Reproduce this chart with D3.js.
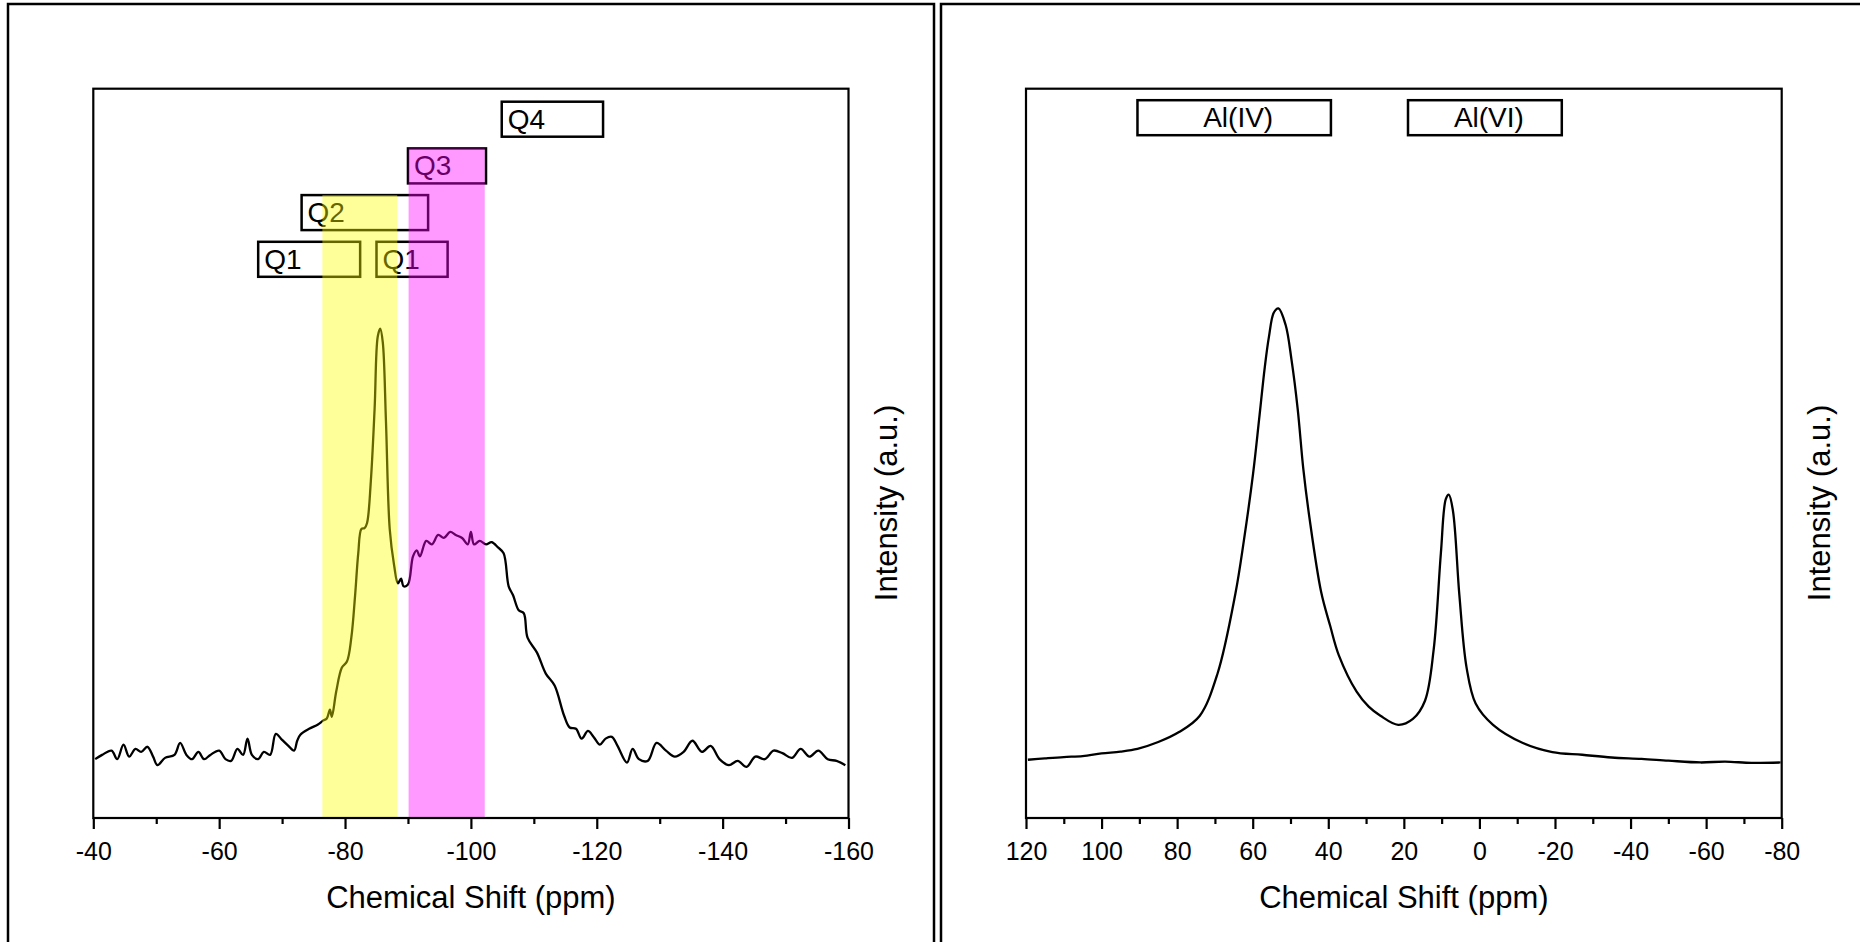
<!DOCTYPE html>
<html>
<head>
<meta charset="utf-8">
<script src="https://cdn.jsdelivr.net/npm/d3@7"></script>
<style>
  html, body { margin: 0; padding: 0; background: #fff; }
  svg { display: block; }
  text { font-family: "Liberation Sans", Arial, Helvetica, sans-serif; fill: #000; }
</style>
</head>
<body>
<svg id="chart" width="1860" height="942"></svg>
<script>
// ---------------- DATA ----------------
// Left panel: 29Si spectrum (ppm, intensity a.u.)
const siShift = [-40.3,-41.4,-42.9,-43.8,-44.8,-45.7,-46.7,-47.6,-48.6,-49.5,-50.2,-51.4,-52.9,-53.8,-54.8,-55.7,-56.7,-57.6,-58.6,-60.0,
  -61.0,-61.9,-62.9,-63.8,-64.5,-65.2,-66.2,-67.1,-68.1,-69.0,-70.0,-71.0,-71.9,-72.4,-72.9,-74.3,-75.7,-76.5,-77.1,-77.6,
  -77.9,-78.6,-79.5,-80.3,-81.0,-81.6,-82.1,-82.6,-83.1,-83.5,-84.1,-84.7,-85.2,-85.6,-86.0,-86.5,-87.1,-87.8,-88.4,-88.9,
  -89.3,-90.0,-90.8,-91.4,-91.9,-92.9,-93.8,-94.8,-95.7,-96.7,-97.6,-98.6,-99.5,-100.0,-100.5,-101.4,-102.4,-103.3,-104.3,-105.2,
  -106.0,-106.7,-107.6,-108.4,-109.0,-110.5,-111.9,-113.3,-114.8,-115.7,-116.7,-117.6,-118.6,-119.5,-120.5,-121.4,-122.4,-123.3,-124.8,-125.7,
  -126.7,-128.1,-129.5,-131.0,-132.4,-133.8,-135.2,-136.7,-138.1,-139.5,-141.0,-142.4,-143.8,-145.2,-146.7,-148.1,-149.5,-151.0,-152.4,-153.8,
  -155.2,-156.7,-158.1,-159.5];
const siIntensity = [-0.6,0.4,1.4,-0.6,2.8,0,1.8,1.1,2.3,0,-2.0,-0.3,0.4,3.2,0.4,-0.6,1.1,-0.6,0.4,1.4,
  -0.6,-1.0,1.8,0.4,4.2,0.4,-0.6,1.1,0.4,5.3,3.9,2.5,1.4,3.7,5.1,6.5,7.5,8.4,8.9,11.0,
  9.3,15.2,20.8,22.2,27.8,37.7,47.5,53.2,53.4,54.6,64.4,81.3,98.2,100,96.8,78.5,53.2,44.7,40.5,41.6,
  39.8,40.2,46.8,48.2,46.8,50.4,49.6,51.8,51.1,52.5,51.8,51.1,49.6,52.5,49.6,50.4,49.6,50.1,48.9,47.5,
  39.8,37.7,34.2,33.5,27.8,24.3,19.4,16.6,9.6,6.8,6.5,4.2,6.0,4.6,2.8,4.2,4.6,2.5,-1.4,1.8,
  -0.6,-1.0,3.2,1.4,0,1.1,3.7,1.1,2.5,-0.6,-2.0,-1.0,-2.4,0,-0.6,1.4,0.8,-0.3,1.8,0,
  1.4,-0.6,-1.0,-2.0];

// Right panel: 27Al spectrum (ppm, intensity a.u.)
const alShift = [119.5,115,110,105,100,95,90.5,85,79.5,74,69.3,64.6,62.3,59.9,58.3,56.8,55.7,54.4,53.2,51.3,
  49.7,48.1,46.6,45,41.9,39.5,37.2,32.5,29.3,26.2,21.5,17.6,14.4,12.1,10.2,8.9,8.1,7.0,5.3,3.4,
  1.0,-3.6,-11.5,-19.3,-27.2,-35,-42.9,-50,-58.5,-65,-72,-79.7];
const alIntensity = [0.5,0.8,1.1,1.3,1.9,2.3,2.9,4.4,6.6,10.2,19.5,37.0,49.0,63.5,75.5,87.0,93.7,99.0,99.9,96.3,
  88.4,77.8,64.5,53.9,37.5,30.0,23.5,15.5,12.2,10.2,8.2,9.5,13.5,24.8,46.0,57.9,58.9,55.3,36.7,20.8,
  12.9,8.2,4.2,2.2,1.6,1.0,0.7,0.3,-0.1,0.1,-0.2,-0.1];

// Axis ticks
const siMajorTicks = [-40,-60,-80,-100,-120,-140,-160];
const siMinorTicks = [-50,-70,-90,-110,-130,-150];
const alMajorTicks = [120,100,80,60,40,20,0,-20,-40,-60,-80];
const alMinorTicks = [110,90,70,50,30,10,-10,-30,-50,-70];

// Highlight bands (ppm ranges) and annotation boxes
const siBandFrom  = [-76.4, -90.1];
const siBandTo    = [-88.3, -102.2];
const siBandColor = ["#ffff00", "#ff00ff"];
const siBandLevel = [1, 2];

const siBoxLabel = ["Q1", "Q1", "Q2", "Q3", "Q4"];
const siBoxFrom  = [-66.2, -85.0, -73.1, -90.0, -104.9];
const siBoxTo    = [-82.4, -96.3, -93.2, -102.4, -121.0];
const siBoxLevel = [0, 0, 1, 2, 3];

const alBoxLabel = ["Al(IV)", "Al(VI)"];
const alBoxFrom  = [90.5, 18.9];
const alBoxTo    = [39.3, -21.8];

const xTitle = "Chemical Shift (ppm)";
const yTitle = "Intensity (a.u.)";

// ---------------- LAYOUT ----------------
const svg = d3.select("#chart");
const FONT = '"Liberation Sans", Arial, Helvetica, sans-serif';

// panel borders
svg.append("rect").attr("x", 8).attr("y", 4).attr("width", 926).attr("height", 980)
  .attr("fill", "none").attr("stroke", "#000").attr("stroke-width", 2.5);
svg.append("rect").attr("x", 941).attr("y", 4).attr("width", 960).attr("height", 980)
  .attr("fill", "none").attr("stroke", "#000").attr("stroke-width", 2.5);

const plotTop = 88.7, plotBottom = 818;
const rowTop = lvl => plotTop + 13 + (3 - lvl) * 46.7;
const boxH = 35;

function drawPanel(opt) {
  const g = svg.append("g");
  const x = d3.scaleLinear().domain(opt.xDomain).range([opt.x0, opt.x1]);
  const y = d3.scaleLinear().domain(opt.yDomain).range([plotBottom, plotTop]);

  // boxes drawn under bands
  const boxes = g.append("g");
  opt.boxes.forEach(b => {
    const bx0 = x(b.from), bx1 = x(b.to);
    const by = b.level !== undefined ? rowTop(b.level) : plotTop + 11.5;
    boxes.append("rect").attr("x", bx0).attr("y", by).attr("width", bx1 - bx0).attr("height", boxH)
      .attr("fill", "#fff").attr("stroke", "#000").attr("stroke-width", 2.5);
    const t = boxes.append("text").text(b.label)
      .attr("y", by + 27).attr("font-size", opt.boxFont);
    if (opt.centerText) t.attr("x", (bx0 + bx1) / 2 + 4).attr("text-anchor", "middle");
    else t.attr("x", bx0 + 6);
  });

  // spectrum line
  const line = d3.line().x(d => x(d[0])).y(d => y(d[1])).curve(d3.curveCatmullRom.alpha(0.5));
  g.append("path").datum(opt.shift.map((s, i) => [s, opt.intensity[i]]))
    .attr("d", line).attr("fill", "none").attr("stroke", "#000")
    .attr("stroke-width", 2.3).attr("stroke-linejoin", "round");

  // translucent bands over everything
  (opt.bands || []).forEach(b => {
    const bx0 = x(b.from), bx1 = x(b.to);
    const by = rowTop(b.level);
    g.append("rect").attr("x", bx0).attr("y", by).attr("width", bx1 - bx0).attr("height", plotBottom - by)
      .attr("fill", b.color).attr("fill-opacity", 0.4);
  });

  // frame
  g.append("rect").attr("x", opt.x0).attr("y", plotTop).attr("width", opt.x1 - opt.x0).attr("height", plotBottom - plotTop)
    .attr("fill", "none").attr("stroke", "#000").attr("stroke-width", 2.2);

  // axes
  const major = g.append("g").attr("transform", `translate(0,${plotBottom})`)
    .call(d3.axisBottom(x).tickValues(opt.major).tickSize(11).tickFormat(d => String(d)));
  major.select(".domain").remove();
  major.selectAll("line").attr("stroke", "#000").attr("stroke-width", 2.2);
  major.selectAll("text").attr("y", 42).attr("dy", 0).attr("font-size", 25)
    .attr("font-family", FONT).attr("fill", "#000");
  const minor = g.append("g").attr("transform", `translate(0,${plotBottom})`)
    .call(d3.axisBottom(x).tickValues(opt.minor).tickSize(6).tickFormat(""));
  minor.select(".domain").remove();
  minor.selectAll("line").attr("stroke", "#000").attr("stroke-width", 2.2);

  // titles
  g.append("text").text(xTitle).attr("x", (opt.x0 + opt.x1) / 2).attr("y", 908)
    .attr("text-anchor", "middle").attr("font-size", 31);
  g.append("text").text(yTitle)
    .attr("transform", `translate(${opt.x1 + 48},503) rotate(-90)`)
    .attr("text-anchor", "middle").attr("font-size", 31);
}

drawPanel({
  x0: 93.3, x1: 848.5,
  xDomain: [-40, -160], yDomain: [-14.35, 156.1],
  shift: siShift, intensity: siIntensity,
  major: siMajorTicks, minor: siMinorTicks,
  boxes: siBoxLabel.map((l, i) => ({label: l, from: siBoxFrom[i], to: siBoxTo[i], level: siBoxLevel[i]})),
  bands: siBandFrom.map((f, i) => ({from: f, to: siBandTo[i], color: siBandColor[i], level: siBandLevel[i]})),
  boxFont: 28, centerText: false
});

drawPanel({
  x0: 1026, x1: 1781.7,
  xDomain: [120, -80], yDomain: [-12.33, 148.3],
  shift: alShift, intensity: alIntensity,
  major: alMajorTicks, minor: alMinorTicks,
  boxes: alBoxLabel.map((l, i) => ({label: l, from: alBoxFrom[i], to: alBoxTo[i]})),
  bands: [],
  boxFont: 28, centerText: true
});
</script>
</body>
</html>
